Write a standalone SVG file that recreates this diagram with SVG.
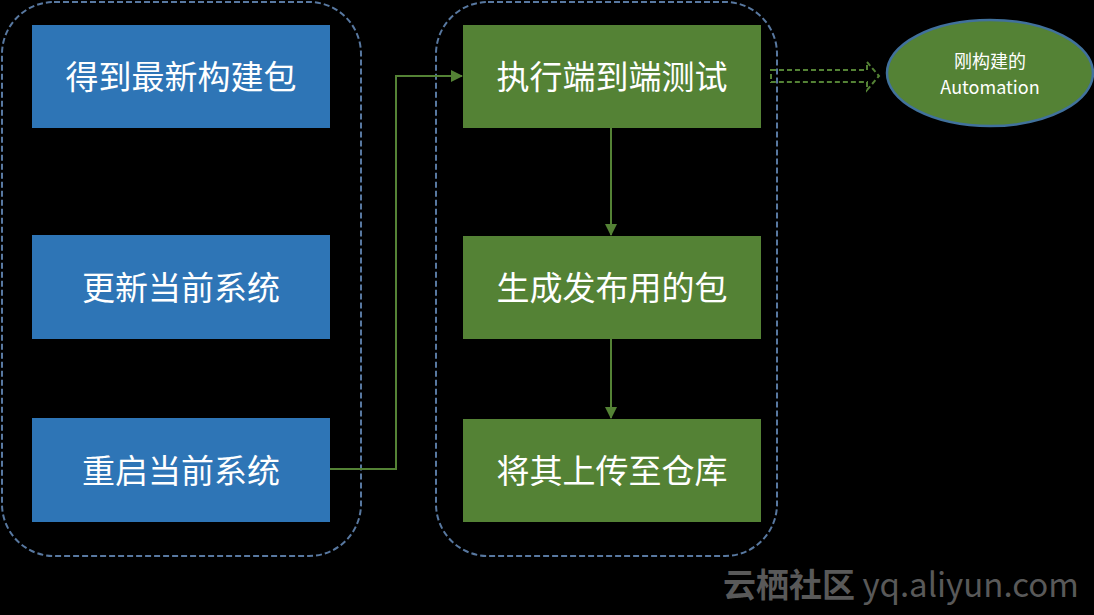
<svg xmlns="http://www.w3.org/2000/svg" width="1094" height="615" viewBox="0 0 1094 615">
<style>
.bg{fill:#000}
.cont{fill:none;stroke:#5878A0;stroke-width:2;stroke-dasharray:6 3}
.blue{fill:#2E75B6}
.green{fill:#548235}
.t{font-family:"Noto Sans CJK SC","Microsoft YaHei",sans-serif;font-size:33px;fill:#FFFFFF;text-anchor:middle;dominant-baseline:central}
.st{font-family:"Noto Sans CJK SC",sans-serif;font-size:18px;fill:#FFFFFF;text-anchor:middle}
.con{fill:none;stroke:#548235;stroke-width:2}
.wm{font-family:"Noto Sans CJK SC",sans-serif;font-size:33px;fill:#595959}
</style>
<defs>
<marker id="ah" markerWidth="12" markerHeight="12" refX="11" refY="6" orient="auto" markerUnits="userSpaceOnUse">
<path d="M0,0 L12,6 L0,12 Z" fill="#548235"/>
</marker>
</defs>
<rect class="bg" x="0" y="0" width="1094" height="615"/>
<g id="container-left"><rect class="cont" x="2" y="2" width="359" height="554" rx="52" ry="52"/></g>
<g id="container-right"><rect class="cont" x="436" y="2" width="341" height="554" rx="52" ry="52"/></g>
<g id="n1"><rect class="blue" x="32" y="25" width="298" height="103"/><text class="t" x="181" y="75">得到最新构建包</text></g>
<g id="n2"><rect class="blue" x="32" y="235" width="298" height="104"/><text class="t" x="181" y="286">更新当前系统</text></g>
<g id="n3"><rect class="blue" x="32" y="418" width="298" height="104"/><text class="t" x="181" y="469">重启当前系统</text></g>
<g id="n4"><rect class="green" x="463" y="25" width="298" height="103"/><text class="t" x="612" y="75">执行端到端测试</text></g>
<g id="n5"><rect class="green" x="463" y="236" width="298" height="103"/><text class="t" x="612" y="286">生成发布用的包</text></g>
<g id="n6"><rect class="green" x="463" y="419" width="298" height="103"/><text class="t" x="612" y="469">将其上传至仓库</text></g>
<g id="n7"><ellipse cx="990" cy="73" rx="103" ry="53" fill="#548235" stroke="#41719C" stroke-width="2.5"/><text class="st" x="990" y="68">刚构建的</text><text class="st" x="990" y="94">Automation</text></g>
<g id="connectors">
<path class="con" d="M330,469 H396 V76 H462" marker-end="url(#ah)"/>
<path class="con" d="M611,128 V235" marker-end="url(#ah)"/>
<path class="con" d="M611,339 V418" marker-end="url(#ah)"/>
<path d="M771,70 H867 V62 L879,76 L867,90 V82 H771 Z" fill="none" stroke="#548235" stroke-width="2" stroke-dasharray="5 3"/>
</g>
<text class="wm" x="723" y="597"><tspan font-weight="bold">云栖社区</tspan> yq.aliyun.com</text>
</svg>
